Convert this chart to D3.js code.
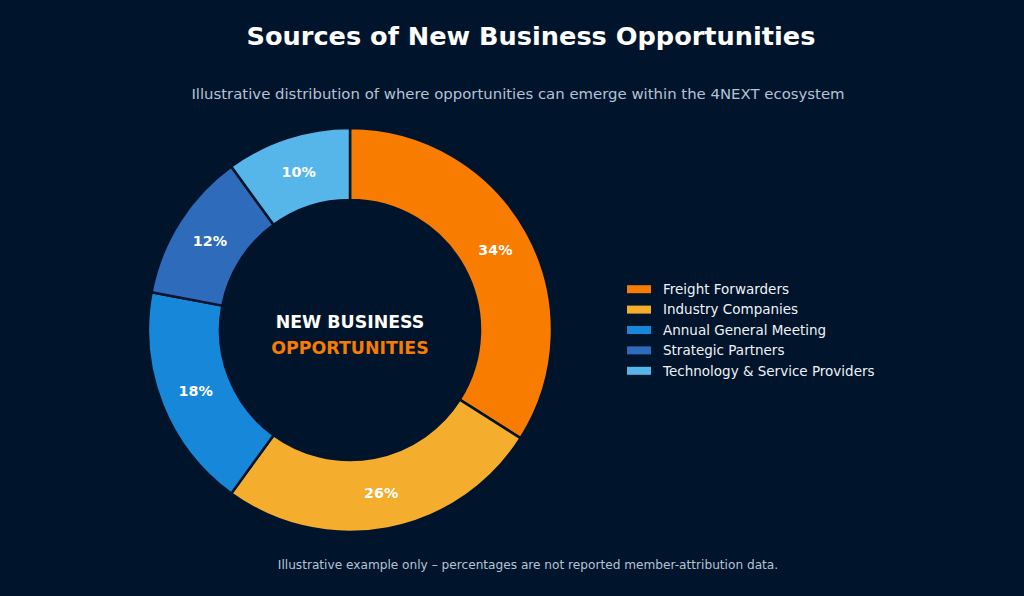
<!DOCTYPE html>
<html><head><meta charset="utf-8">
<script src="https://cdn.jsdelivr.net/npm/d3@7"></script>
<style>html,body{margin:0;padding:0;background:#00142b;}svg{display:block;font-family:"DejaVu Sans",sans-serif;}</style>
</head><body>
<svg id="c" width="1024" height="596"></svg>
<script>
const categories = ["Freight Forwarders","Industry Companies","Annual General Meeting","Strategic Partners","Technology & Service Providers"];
const values = [34, 26, 18, 12, 10];
const colors = ["#f77c00","#f5ad2e","#1787da","#2e6bbb","#57b6e9"];
const title = "Sources of New Business Opportunities";
const subtitle = "Illustrative distribution of where opportunities can emerge within the 4NEXT ecosystem";
const footer = "Illustrative example only – percentages are not reported member-attribution data.";
const centerLines = ["NEW BUSINESS","OPPORTUNITIES"];

const svg = d3.select("#c");
const W = 1024, H = 596;
svg.append("rect").attr("width",W).attr("height",H).attr("fill","#00142b");

svg.append("text").attr("x",531).attr("y",45).attr("text-anchor","middle")
  .attr("fill","#ffffff").attr("font-size",25.6).attr("font-weight","bold").text(title);
svg.append("text").attr("x",518).attr("y",99).attr("text-anchor","middle")
  .attr("fill","#b4c3d4").attr("font-size",14.9).text(subtitle);
svg.append("text").attr("x",528).attr("y",569).attr("text-anchor","middle")
  .attr("fill","#b4c3d4").attr("font-size",12.15).text(footer);

const data = categories.map((c,i)=>({cat:c,val:values[i],col:colors[i]}));
const pie = d3.pie().value(d=>d.val).sort(null);
const arcs = pie(data);
const arc = d3.arc().innerRadius(130).outerRadius(202);
const labelArc = d3.arc().innerRadius(166).outerRadius(166);
const g = svg.append("g").attr("transform","translate(350,330)");
g.selectAll("path").data(arcs).join("path")
  .attr("d",arc).attr("fill",d=>d.data.col)
  .attr("stroke","#00142b").attr("stroke-width",2.5);
g.selectAll("text.lbl").data(arcs).join("text").attr("class","lbl")
  .attr("transform",d=>`translate(${labelArc.centroid(d)})`)
  .attr("text-anchor","middle").attr("dy","0.35em")
  .attr("fill","#ffffff").attr("font-size",14.3).attr("font-weight","bold")
  .text(d=>d.data.val+"%");
g.append("text").attr("y",-2).attr("text-anchor","middle").attr("fill","#ffffff")
  .attr("font-size",17.4).attr("font-weight","bold").text(centerLines[0]);
g.append("text").attr("y",24).attr("text-anchor","middle").attr("fill","#f77c00")
  .attr("font-size",17.4).attr("font-weight","bold").text(centerLines[1]);

const y = d3.scaleBand().domain(categories).range([279,381]);
const leg = svg.append("g");
const rows = leg.selectAll("g").data(data).join("g")
  .attr("transform",d=>`translate(627,${y(d.cat)+y.bandwidth()/2})`);
rows.append("rect").attr("x",0).attr("y",-4).attr("width",24).attr("height",8).attr("fill",d=>d.col);
rows.append("text").attr("x",36).attr("dy","0.35em").attr("fill","#eef2f7")
  .attr("font-size",13.5).text(d=>d.cat);
</script>
</body></html>
